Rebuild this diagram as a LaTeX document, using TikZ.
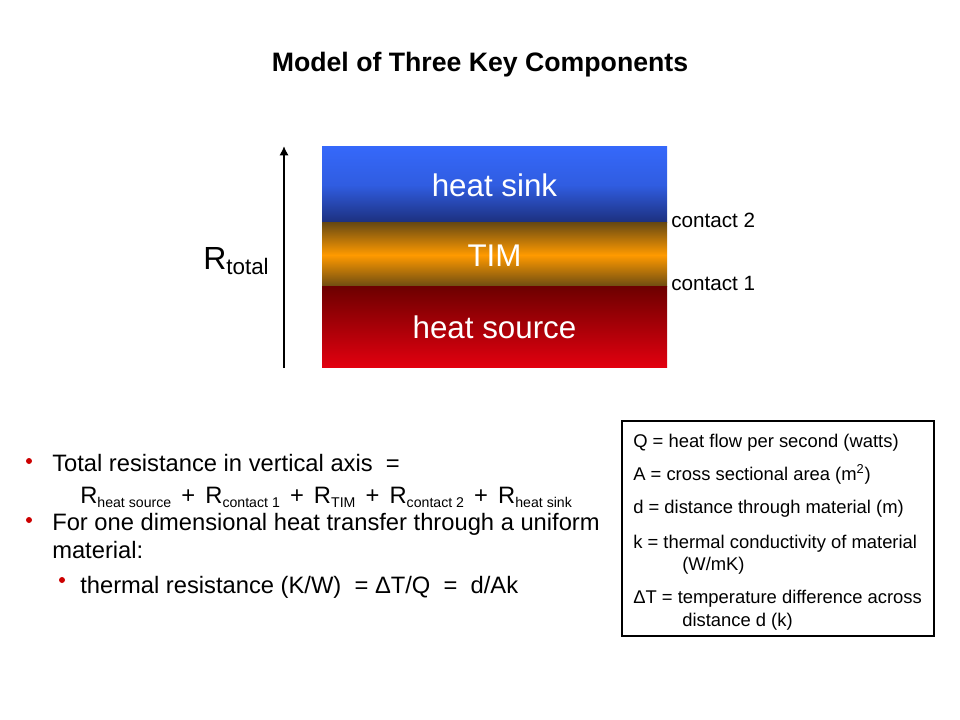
\documentclass[tikz,border=0pt]{standalone}
\usepackage{fontspec}
\setmainfont{Liberation Sans}
\usetikzlibrary{arrows.meta}
\definecolor{sinktop}{HTML}{3568FA}
\definecolor{sinkbot}{HTML}{1C2F7C}
\definecolor{timedge}{HTML}{6A4A12}
\definecolor{timmid}{HTML}{FF9A00}
\definecolor{srctop}{HTML}{6E0000}
\definecolor{srcbot}{HTML}{E2000F}
\definecolor{bulletred}{HTML}{CC0000}
\newcommand\rsub[1]{\raisebox{-0.35ex}{\fontsize{10.6}{12}\selectfont #1}}
\newcommand\plusgap{\hspace{7.6pt}+\hspace{7.6pt}}
\tikzset{
  layer/.style={inner sep=0pt, minimum width=258.75pt, text=white, font=\fontsize{23.5}{26}\selectfont},
  lbl/.style={inner sep=0pt, anchor=base west},
  boxtxt/.style={lbl, font=\fontsize{13.8}{16}\selectfont},
  bultxt/.style={lbl, font=\fontsize{17.8}{20}\selectfont},
  dot/.style={circle, fill=bulletred, inner sep=0pt, minimum size=4.5pt},
}
\begin{document}
\begin{tikzpicture}[x=0.75pt,y=-0.75pt]
\useasboundingbox (0,0) rectangle (960,720);
% title
\node[inner sep=0pt, font=\fontsize{20}{24}\selectfont\bfseries] (title) at (480,65) {Model of Three Key Components};
% layers
\node[layer, minimum height=57pt, top color=sinktop, bottom color=sinkbot, middle color=sinktop!80!sinkbot] (sink) at (494.5,185) {heat sink};
\node[layer, minimum height=48pt, top color=timedge, bottom color=timedge, middle color=timmid] (tim) at (494.5,255) {};
\node[lbl, text=white, font=\fontsize{23.5}{26}\selectfont, anchor=base] (timlbl) at (494.5,267) {TIM};
\node[layer, minimum height=60pt, top color=srctop, bottom color=srcbot] (src) at (494.5,327) {};
\node[lbl, text=white, font=\fontsize{23.5}{26}\selectfont, anchor=base] (srclbl) at (494.5,338) {heat source};
% arrow
\coordinate (abot) at (284,368);
\coordinate (atop) at (284,146);
\draw[line width=2.2pt, -{Latex[length=7pt,width=7pt]}] (abot) -- (atop);
\node[lbl, font=\fontsize{24}{28}\selectfont] (rtot) at (203,270) {R\textsubscript{total}};
% contacts
\node[lbl, font=\fontsize{15.5}{18}\selectfont] (c2) at (671,228) {contact 2};
\node[lbl, font=\fontsize{15.5}{18}\selectfont] (c1) at (671,291) {contact 1};
% bullets
\node[dot] (b1) at (29,461) {};
\node[dot] (b2) at (29,520) {};
\node[dot] (b3) at (62,580) {};
\node[bultxt] (t1) at (52,471) {Total resistance in vertical axis\ \ =};
\node[bultxt] (t2) at (80,503) {R\rsub{heat source}\plusgap R\rsub{contact 1}\plusgap R\rsub{TIM}\plusgap R\rsub{contact 2}\plusgap R\rsub{heat sink}};
\node[bultxt] (t3) at (52,530) {For one dimensional heat transfer through a uniform};
\node[bultxt] (t4) at (52,558) {material:};
\node[bultxt] (t5) at (80,593) {thermal resistance (K/W)\ \ = ΔT/Q\ \ =\ \ d/Ak};
% box
\node[draw, line width=0.9pt, inner sep=0pt, minimum width=234pt, minimum height=161.25pt] (defbox) at (778,528.5) {};
\node[boxtxt] (q) at (633,447) {Q = heat flow per second (watts)};
\node[boxtxt] (a) at (633,480) {A = cross sectional area (m\textsuperscript{2})};
\node[boxtxt] (d) at (633,513) {d = distance through material (m)};
\node[boxtxt] (k) at (633,548) {k = thermal conductivity of material};
\node[boxtxt] (k2) at (682,570) {(W/mK)};
\node[boxtxt] (dt) at (633,603) {ΔT = temperature difference across};
\node[boxtxt] (dt2) at (682,626) {distance d (k)};
\end{tikzpicture}
\end{document}
